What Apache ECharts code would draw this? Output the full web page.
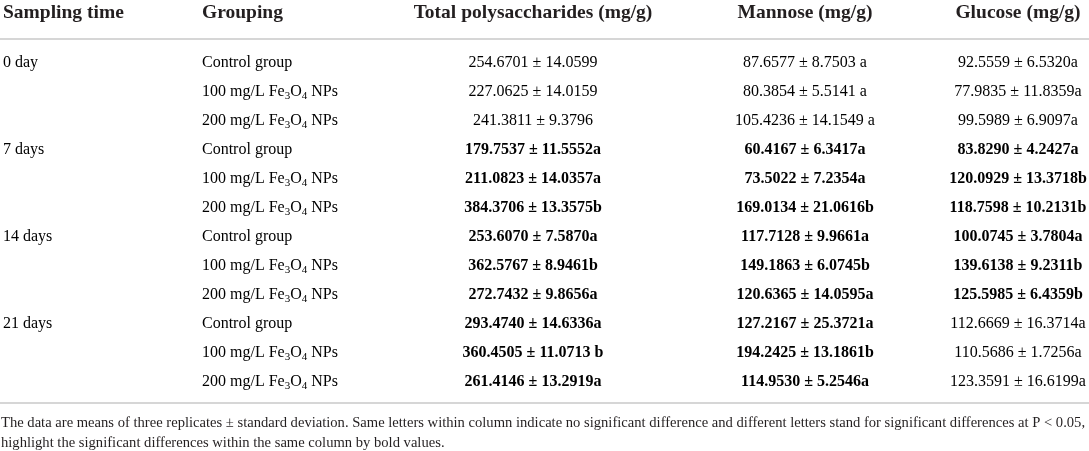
<!DOCTYPE html>
<html>
<head>
<meta charset="utf-8">
<script src="https://cdn.jsdelivr.net/npm/echarts@6/dist/echarts.min.js"></script>
<style>
  html, body { margin: 0; padding: 0; background: #fff; }
  #main { width: 1089px; height: 451px; }
</style>
</head>
<body>
<div id="main"></div>
<script>
// table content
var headers = ['Sampling time', 'Grouping', 'Total polysaccharides (mg/g)', 'Mannose (mg/g)', 'Glucose (mg/g)'];
var times = ['0 day', '7 days', '14 days', '21 days'];
var groups = ['Control group', '100 mg/L Fe{sub|3}O{sub|4} NPs', '200 mg/L Fe{sub|3}O{sub|4} NPs'];

var totalMean = [254.6701, 227.0625, 241.3811, 179.7537, 211.0823, 384.3706, 253.6070, 362.5767, 272.7432, 293.4740, 360.4505, 261.4146];
var totalSd   = [14.0599, 14.0159, 9.3796, 11.5552, 14.0357, 13.3575, 7.5870, 8.9461, 9.8656, 14.6336, 11.0713, 13.2919];
var totalLet  = ['', '', '', 'a', 'a', 'b', 'a', 'b', 'a', 'a', ' b', 'a'];
var totalBold = [0, 0, 0, 1, 1, 1, 1, 1, 1, 1, 1, 1];

var mannoseMean = [87.6577, 80.3854, 105.4236, 60.4167, 73.5022, 169.0134, 117.7128, 149.1863, 120.6365, 127.2167, 194.2425, 114.9530];
var mannoseSd   = [8.7503, 5.5141, 14.1549, 6.3417, 7.2354, 21.0616, 9.9661, 6.0745, 14.0595, 25.3721, 13.1861, 5.2546];
var mannoseLet  = [' a', ' a', ' a', 'a', 'a', 'b', 'a', 'b', 'a', 'a', 'b', 'a'];
var mannoseBold = [0, 0, 0, 1, 1, 1, 1, 1, 1, 1, 1, 1];

var glucoseMean = [92.5559, 77.9835, 99.5989, 83.8290, 120.0929, 118.7598, 100.0745, 139.6138, 125.5985, 112.6669, 110.5686, 123.3591];
var glucoseSd   = [6.5320, 11.8359, 6.9097, 4.2427, 13.3718, 10.2131, 3.7804, 9.2311, 6.4359, 16.3714, 1.7256, 16.6199];
var glucoseLet  = ['a', 'a', 'a', 'a', 'b', 'b', 'a', 'b', 'b', 'a', 'a', 'a'];
var glucoseBold = [0, 0, 0, 1, 1, 1, 1, 1, 1, 0, 0, 0];

var footnote = [
  'The data are means of three replicates \u00b1 standard deviation. Same letters within column indicate no significant difference and different letters stand for significant differences at P < 0.05,',
  'highlight the significant differences within the same column by bold values.'
];

// layout
var FONT = '"Liberation Serif", "Times New Roman", serif';
var INK = '#231f20';
var RULE = '#c9c9c9';
var colX = [3, 202, 533, 805, 1018];
var colAlign = ['left', 'left', 'center', 'center', 'center'];

var rowNames = [];
for (var r = 0; r < 12; r++) rowNames.push('r' + r);

function fmt(m, s, l) {
  return m.toFixed(4) + ' \u00b1 ' + s.toFixed(4) + l;
}

// build cells: [x, row], text, bold
var cellPos = [], cellText = [], cellBold = [], cellCol = [];
function addCell(c, r, text, bold) {
  cellPos.push([colX[c], r]);
  cellText.push(text);
  cellBold.push(bold);
  cellCol.push(c);
}
for (var t = 0; t < times.length; t++) addCell(0, t * 3, times[t], 0);
for (var r2 = 0; r2 < 12; r2++) {
  addCell(1, r2, groups[r2 % 3], 0);
  addCell(2, r2, fmt(totalMean[r2], totalSd[r2], totalLet[r2]), totalBold[r2]);
  addCell(3, r2, fmt(mannoseMean[r2], mannoseSd[r2], mannoseLet[r2]), mannoseBold[r2]);
  addCell(4, r2, fmt(glucoseMean[r2], glucoseSd[r2], glucoseLet[r2]), glucoseBold[r2]);
}

var chart = echarts.init(document.getElementById('main'), null, { renderer: 'canvas' });

var graphics = [];
headers.forEach(function (h, i) {
  graphics.push({
    type: 'text', x: colX[i], y: 13,
    style: {
      text: h, fill: INK, align: colAlign[i], verticalAlign: 'middle',
      font: 'bold 19.5px ' + FONT
    }
  });
});
graphics.push({ type: 'line', shape: { x1: 0, y1: 39, x2: 1089, y2: 39 }, style: { stroke: RULE, lineWidth: 1.5 } });
graphics.push({ type: 'line', shape: { x1: 0, y1: 403, x2: 1089, y2: 403 }, style: { stroke: RULE, lineWidth: 1.5 } });
footnote.forEach(function (line, i) {
  graphics.push({
    type: 'text', x: 1, y: 423 + i * 20,
    style: { text: line, fill: INK, align: 'left', verticalAlign: 'middle', font: '14.6px ' + FONT }
  });
});

var option = {
  animation: false,
  grid: { left: 0, right: 0, top: 48.5, bottom: 54.5 },
  xAxis: { type: 'value', min: 0, max: 1089, show: false },
  yAxis: { type: 'category', data: rowNames, inverse: true, show: false },
  graphic: graphics,
  series: [{
    type: 'custom',
    data: cellPos,
    renderItem: function (params, api) {
      var i = params.dataIndex;
      var p = api.coord([api.value(0), api.value(1)]);
      var bold = cellBold[i];
      return {
        type: 'text',
        x: p[0],
        y: p[1],
        style: {
          text: '{m|' + cellText[i].replace(/\{sub\|(\d)\}/g, '}{sub|$1}{m|') + '}',
          align: colAlign[cellCol[i]],
          verticalAlign: 'middle',
          rich: {
            m: { fontFamily: FONT, fontSize: 16, fontWeight: bold ? 'bold' : 'normal', color: INK, lineHeight: 20 },
            sub: { fontFamily: FONT, fontSize: 11, fontWeight: bold ? 'bold' : 'normal', color: INK, lineHeight: 13, verticalAlign: 'bottom' }
          }
        }
      };
    }
  }]
};

chart.setOption(option);
</script>
</body>
</html>
